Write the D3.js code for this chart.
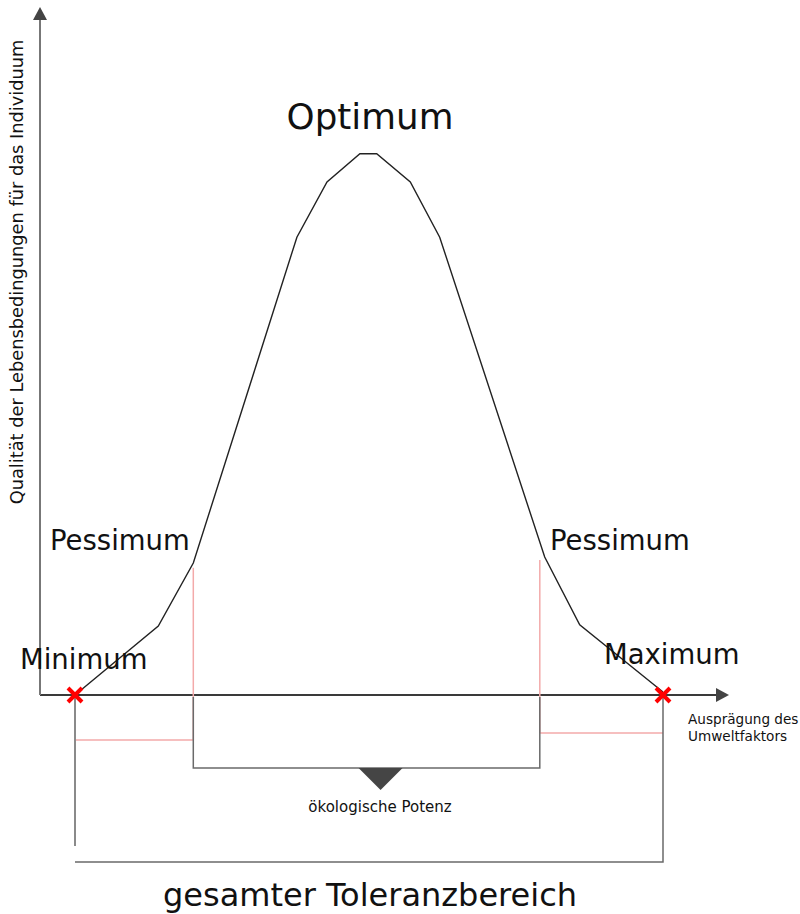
<!DOCTYPE html>
<html><head><meta charset="utf-8">
<script src="https://cdn.jsdelivr.net/npm/d3@7"></script>
<style>body{margin:0;background:#fff}svg{display:block}text{font-family:"DejaVu Sans",sans-serif;fill:#111}</style>
</head><body>
<script>
// Data: environmental factor (x, 0..100) vs quality of living conditions (y, 0..100)
const curveX = [5, 16.9, 21.9, 36.7, 41.0, 45.7, 48.1, 52.9, 57.1, 72.1, 77.1, 89.0];
const curveY = [0, 11.5, 22.0, 76.3, 85.5, 90.2, 90.2, 85.5, 76.3, 23.0, 11.7, 0.5];
const limits = [5, 89];              // Minimum, Maximum
const pessimaX = [21.9, 71.4];       // left / right pessimum
const pessimaTop = [21.2, 22.5];
const pointLabels = ["Minimum", "Maximum"];
const pessimumLabel = "Pessimum";
const optimumLabel = "Optimum";
const yAxisLabel = "Qualität der Lebensbedingungen für das Individuum";
const xAxisLabel = ["Ausprägung des", "Umweltfaktors"];
const potenzLabel = "ökologische Potenz";
const toleranzLabel = "gesamter Toleranzbereich";

const W = 800, H = 914;
const svg = d3.select("body").append("svg").attr("width", W).attr("height", H);
const x = d3.scaleLinear().domain([0, 100]).range([40, 740]);
const y = d3.scaleLinear().domain([0, 100]).range([695, 95]);
const y0 = y(0);

// axes
const axisCol = "#3a3a3a";
svg.append("line").attr("x1", x(0)).attr("x2", 716).attr("y1", y0).attr("y2", y0)
  .attr("stroke", axisCol).attr("stroke-width", 1.8);
svg.append("path").attr("d", `M716,${y0-7}L729,${y0}L716,${y0+7}Z`).attr("fill", "#444");
svg.append("line").attr("x1", x(0)).attr("x2", x(0)).attr("y1", y0).attr("y2", 20)
  .attr("stroke", "#777").attr("stroke-width", 2);
svg.append("path").attr("d", `M${x(0)-7},20L${x(0)},7L${x(0)+7},20Z`).attr("fill", "#444");

// brackets
const red = "#f3aaaa";
const gray = "#6a6a6a";
const yRedL = 740, yRedR = 733, yPot = 768, yTol = 862;
[[0, yRedL, limits[0]], [1, yRedR, limits[1]]].forEach(([i, yr, lim]) => {
  svg.append("line").attr("x1", x(pessimaX[i])).attr("x2", x(pessimaX[i]))
    .attr("y1", y(pessimaTop[i])).attr("y2", yr).attr("stroke", red).attr("stroke-width", 1.5);
  svg.append("line").attr("x1", x(pessimaX[i])).attr("x2", x(lim))
    .attr("y1", yr).attr("y2", yr).attr("stroke", red).attr("stroke-width", 1.5);
});
svg.append("path")
  .attr("d", `M${x(pessimaX[0])},${y0+2}V${yPot}H${x(pessimaX[1])}V${y0+2}`)
  .attr("fill", "none").attr("stroke", gray).attr("stroke-width", 1.5);
svg.append("line").attr("x1", x(limits[0])).attr("x2", x(limits[0]))
  .attr("y1", y0 + 2).attr("y2", 846).attr("stroke", "#8a8a8a").attr("stroke-width", 2);
svg.append("path")
  .attr("d", `M${x(limits[0])},${yTol}H${x(limits[1])}V${y0+2}`)
  .attr("fill", "none").attr("stroke", gray).attr("stroke-width", 1.5);
const cx = (x(pessimaX[0]) + x(pessimaX[1])) / 2 + 14;
svg.append("path").attr("d", `M${cx-22},${yPot}L${cx+22},${yPot}L${cx},${yPot+22}Z`).attr("fill", "#454545");

// curve
const pts = curveX.map((v, i) => [x(v), y(curveY[i])]);
svg.append("path").attr("d", d3.line()(pts)).attr("fill", "none")
  .attr("stroke", "#222").attr("stroke-width", 1.4);

// red crosses
limits.forEach(l => {
  const cxp = x(l), s = 7;
  svg.append("path").attr("d", `M${cxp-s},${y0-s}L${cxp+s},${y0+s}M${cxp-s},${y0+s}L${cxp+s},${y0-s}`)
    .attr("stroke", "#ff0000").attr("stroke-width", 4);
});

// labels
svg.append("text").attr("x", 370).attr("y", 129).attr("text-anchor", "middle")
  .attr("font-size", 35.7).text(optimumLabel);
svg.append("text").attr("x", 50).attr("y", 550).attr("font-size", 27.5).text(pessimumLabel);
svg.append("text").attr("x", 550).attr("y", 550).attr("font-size", 27.5).text(pessimumLabel);
svg.append("text").attr("x", 20).attr("y", 669).attr("font-size", 27.5).text(pointLabels[0]);
svg.append("text").attr("x", 604).attr("y", 664).attr("font-size", 27.5).text(pointLabels[1]);
svg.append("text").attr("transform", "translate(23,272) rotate(-90)").attr("text-anchor", "middle")
  .attr("font-size", 17.8).text(yAxisLabel);
xAxisLabel.forEach((t, i) => svg.append("text").attr("x", 688).attr("y", 724 + i * 17)
  .attr("font-size", 13.6).attr("fill", "#333").text(t));
svg.append("text").attr("x", 380).attr("y", 812).attr("text-anchor", "middle")
  .attr("font-size", 15).text(potenzLabel);
svg.append("text").attr("x", 370).attr("y", 906).attr("text-anchor", "middle")
  .attr("font-size", 32).text(toleranzLabel);
</script>
</body></html>
